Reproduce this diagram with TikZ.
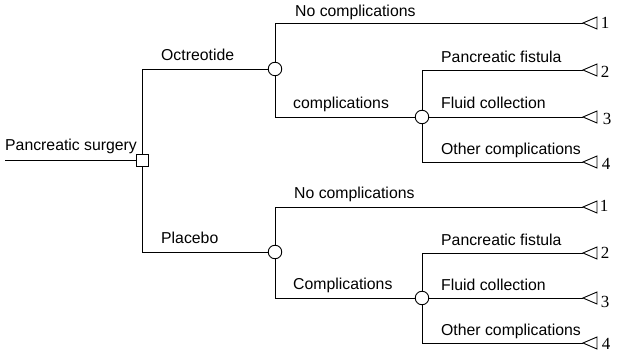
\documentclass[tikz,border=0pt]{standalone}
\usepackage{fontspec}
\setmainfont{Liberation Sans}
\newfontfamily\numfont{Liberation Serif}
\begin{document}
\begin{tikzpicture}[x=1pt,y=-1pt,
  branch/.style={line width=0.9pt},
  decision/.style={draw, line width=0.9pt, fill=white, rectangle, minimum size=12pt, inner sep=0pt},
  chance/.style={draw, line width=0.9pt, fill=white, circle, minimum size=13.5pt, inner sep=0pt},
  endtri/.style={draw, line width=0.9pt, fill=white, line join=miter},
  lbl/.style={anchor=base west, inner sep=0pt, font=\fontsize{15.8}{18}\selectfont},
  num/.style={inner sep=0pt, font=\numfont\fontsize{17}{19}\selectfont}
]
\useasboundingbox (0,0) rectangle (619,352);

% decision and chance nodes
\coordinate (root) at (5,160);
\node[decision] (sq) at (142,160) {};
\node[chance] (oc) at (275,69) {};
\node[chance] (ocx) at (422,117) {};
\node[chance] (pl) at (275,252) {};
\node[chance] (plx) at (422,298) {};

% terminal points (apex of each end triangle)
\coordinate (t1) at (583,23);
\coordinate (t2) at (583,70);
\coordinate (t3) at (583,117);
\coordinate (t4) at (583,162);
\coordinate (t5) at (583,207);
\coordinate (t6) at (583,253);
\coordinate (t7) at (583,298);
\coordinate (t8) at (583,343);

% branches
\draw[branch] (root) -- (sq);
\draw[branch] (sq) |- (oc);
\draw[branch] (sq) |- (pl);
\draw[branch] (oc) |- (t1);
\draw[branch] (oc) |- (ocx);
\draw[branch] (ocx) |- (t2);
\draw[branch] (ocx) -- (t3);
\draw[branch] (ocx) |- (t4);
\draw[branch] (pl) |- (t5);
\draw[branch] (pl) |- (plx);
\draw[branch] (plx) |- (t6);
\draw[branch] (plx) -- (t7);
\draw[branch] (plx) |- (t8);

% end triangles pointing left
\foreach \t in {t1,t2,t3,t4,t5,t6,t7,t8}
  \draw[endtri] (\t) -- ++(14,-6) -- ++(0,12) -- cycle;

% branch labels
\node[lbl] (lroot) at (5,151) {Pancreatic surgery};
\node[lbl] (loct) at (161,61) {Octreotide};
\node[lbl] (lpla) at (161,244) {Placebo};
\node[lbl] (lnc1) at (295,17) {No complications};
\node[lbl] (lc1) at (293,109) {complications};
\node[lbl] (lnc2) at (294,199) {No complications};
\node[lbl] (lc2) at (293,290) {Complications};
\node[lbl] (lpf1) at (441,63) {Pancreatic fistula};
\node[lbl] (lfc1) at (441,109) {Fluid collection};
\node[lbl] (loc1) at (441,155) {Other complications};
\node[lbl] (lpf2) at (441,246) {Pancreatic fistula};
\node[lbl] (lfc2) at (441,291) {Fluid collection};
\node[lbl] (loc2) at (441,336) {Other complications};

% outcome numbers
\node[num] (n1) at (605,23) {1};
\node[num] (n2) at (605,72) {2};
\node[num] (n3) at (607,119) {3};
\node[num] (n4) at (606,164) {4};
\node[num] (n5) at (604,206) {1};
\node[num] (n6) at (605,253) {2};
\node[num] (n7) at (605,302) {3};
\node[num] (n8) at (606,344) {4};
\end{tikzpicture}
\end{document}
